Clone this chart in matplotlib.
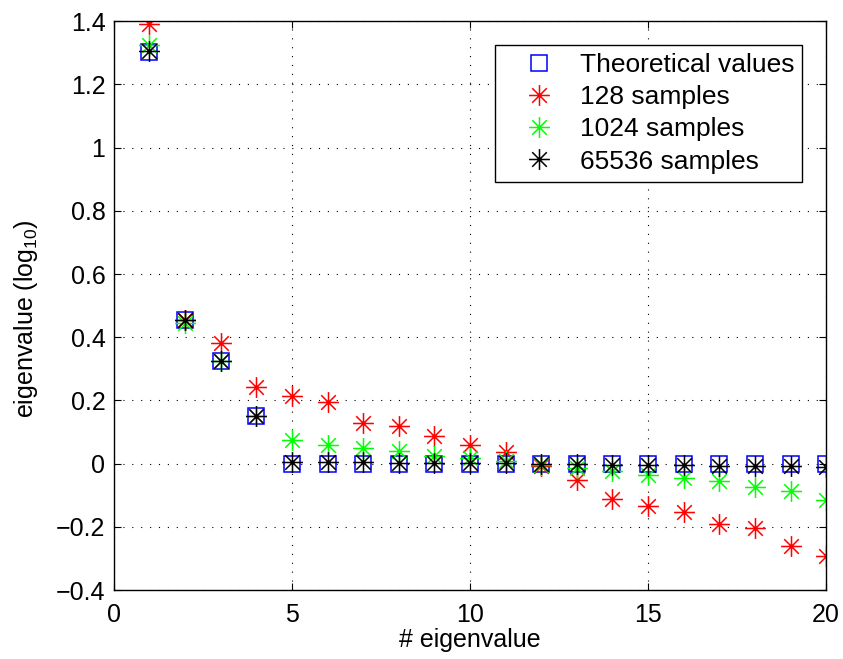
import matplotlib
matplotlib.use("Agg")
import matplotlib.pyplot as plt
import numpy as np
from matplotlib.path import Path

plt.rcParams['font.family'] = ['Liberation Sans', 'DejaVu Sans']
plt.rcParams['mathtext.fontset'] = 'custom'
plt.rcParams['mathtext.rm'] = 'Liberation Sans'
plt.rcParams['mathtext.it'] = 'Liberation Sans:italic'

idx = list(range(1, 21))
theory = [1.304, 0.455, 0.325, 0.150] + [0.0] * 16
s128 = [1.392, 0.455, 0.383, 0.244, 0.215, 0.196, 0.127, 0.118, 0.089, 0.060,
        0.036, -0.006, -0.051, -0.112, -0.135, -0.154, -0.191, -0.204, -0.260, -0.291]
s1024 = [1.326, 0.445, 0.325, 0.150, 0.076, 0.058, 0.048, 0.040, 0.025, 0.019,
         0.007, -0.003, -0.014, -0.024, -0.035, -0.045, -0.056, -0.074, -0.088, -0.114]
s65536 = [1.307, 0.455, 0.325, 0.150, 0.006, 0.005, 0.004, 0.003, 0.002, 0.001,
          0.001, -0.001, -0.002, -0.003, -0.004, -0.005, -0.006, -0.007, -0.009, -0.012]

# matlab style asterisk: a plus and an x
d = 0.7
asterisk = Path([(0, -1), (0, 1), (-1, 0), (1, 0), (-d, -d), (d, d), (-d, d), (d, -d)],
                [Path.MOVETO, Path.LINETO] * 4)

fig = plt.figure(figsize=(8.43, 6.59), dpi=100)
ax = fig.add_axes([0.135, 0.1047, 0.845, 0.863])

ax.plot(idx, theory, ls='none', marker='s', ms=12, mfc='none', mec='blue', mew=1.1,
        label='Theoretical values')
ax.plot(idx, s128, ls='none', marker=asterisk, ms=15, mec='red', mew=1.1, label='128 samples')
ax.plot(idx, s1024, ls='none', marker=asterisk, ms=15, mec='#00ff00', mew=1.1, label='1024 samples')
ax.plot(idx, s65536, ls='none', marker=asterisk, ms=15, mec='black', mew=1.1, label='65536 samples')

ax.set_xlim(0, 20)
ax.set_ylim(-0.4, 1.4)
ax.set_xticks([0, 5, 10, 15, 20])
ax.set_yticks(np.arange(-0.4, 1.41, 0.2))
ax.set_yticklabels(['\u22120.4', '\u22120.2', '0', '0.2', '0.4', '0.6', '0.8', '1', '1.2', '1.4'])
ax.tick_params(direction='in', top=True, right=True, labelsize=18, length=5, pad=6)
ax.tick_params(axis='x', pad=9)
ax.grid(True, color='black', ls=(0, (1, 7)), lw=0.8)
for sp in ax.spines.values():
    sp.set_linewidth(1.0)

ax.set_xlabel('# eigenvalue', fontsize=18, labelpad=1)
ax.set_ylabel('eigenvalue (log$_{10}$)', fontsize=18)
ax.yaxis.set_label_coords(-0.104, 0.478)

leg = ax.legend(loc='upper right', bbox_to_anchor=(0.966, 0.958), borderaxespad=0,
                fontsize=19, fancybox=False, framealpha=1, edgecolor='black',
                handlelength=2.7, handletextpad=0.2, borderpad=0.3, labelspacing=0.31)
leg.get_frame().set_linewidth(1.0)

fig.savefig('out.png', dpi=100)
